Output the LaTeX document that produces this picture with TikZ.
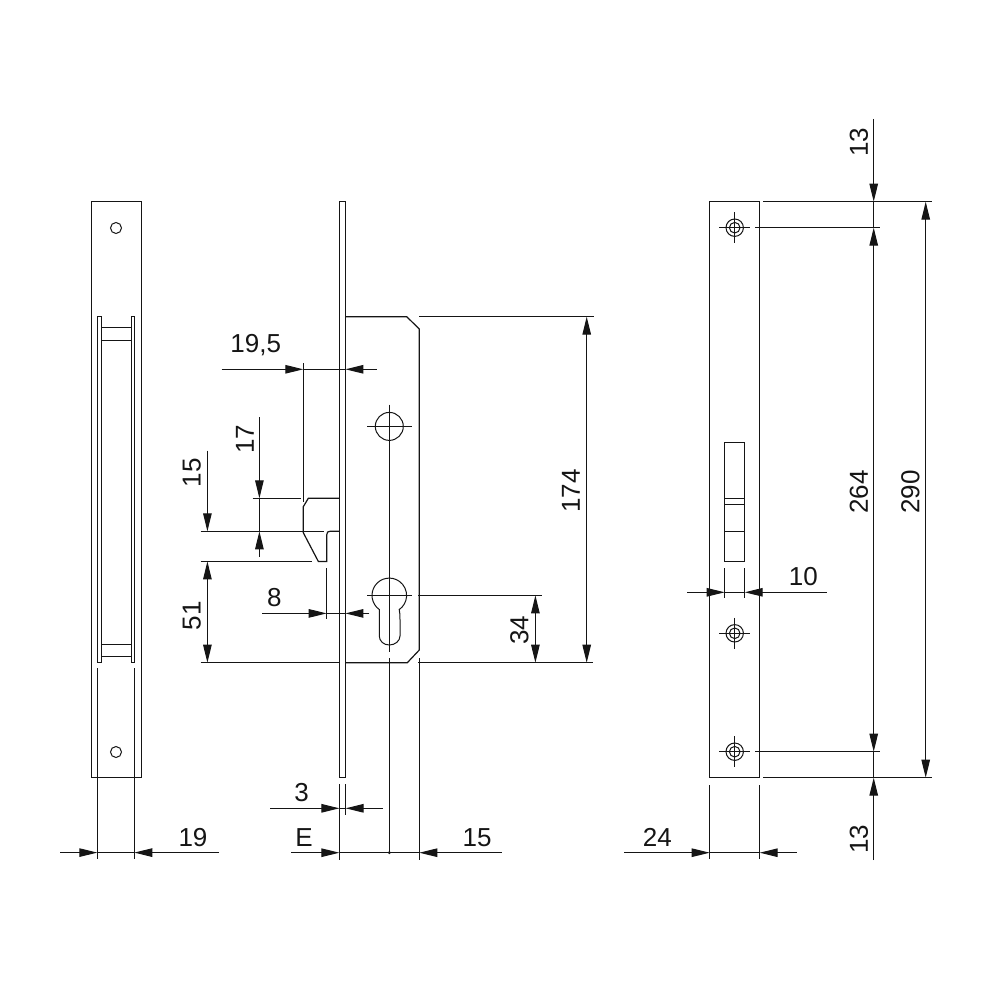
\documentclass[tikz,border=0pt]{standalone}
\usepackage{fontspec}
\setmainfont{Liberation Sans}
\usetikzlibrary{arrows.meta}
\definecolor{ink}{HTML}{151515}
\tikzset{
  part/.style={draw=ink,line width=1.2pt,line join=miter},
  thin line/.style={draw=ink,line width=1.05pt},
  tip/.style={draw=ink,line width=1.05pt,-{Triangle[length=18pt,width=8.5pt,fill=ink]}},
  lbl/.style={inner sep=0pt,text=ink,font=\fontsize{26}{26}\selectfont},
  vlbl/.style={lbl,rotate=90},
  hole/.style={part,line width=1pt}
}
\newcommand{\screwsym}[2]{%
  \draw[hole] (#1,#2) circle[radius=8.7];
  \draw[hole] (#1,#2) circle[radius=5.3];
  \draw[thin line] (#1-15.5,#2) -- (#1+15.5,#2);
  \draw[thin line] (#1,#2-15.5) -- (#1,#2+15.5);
}
\begin{document}
\begin{tikzpicture}[x=1pt,y=-1pt]
\useasboundingbox[fill=white] (0,0) rectangle (1000,1000);
% ---------- left view
\draw[part] (91.5,201.7) rectangle (141.5,777.7);
\draw[hole] (116,228) circle[radius=5.5];
\draw[hole] (116,752) circle[radius=5.5];
\draw[part] (97.3,316.7) rectangle (101.7,662.7);
\draw[part] (131.3,316.7) rectangle (134.7,662.7);
\foreach \yy in {327.7,340.5,644.3,656.7} \draw[thin line] (101.7,\yy) -- (131.3,\yy);
\draw[thin line] (97.3,668) -- (97.3,859);
\draw[thin line] (134.3,668) -- (134.3,859);
\draw[thin line] (97.3,852.6) -- (134.3,852.6);
\draw[tip] (60,852.6) -- (97.3,852.6);
\draw[tip] (219,852.6) -- (134.3,852.6);
\node[lbl] (t19) at (193,838) {19};
% ---------- middle view: plate and case
\draw[part] (339.4,201.7) rectangle (345.4,777.7);
\draw[part] (345.4,316.7) -- (406.7,316.7) -- (419.3,329) -- (419.3,650) -- (407.3,662.7) -- (345.4,662.7);
\draw[thin line] (419.3,316.7) -- (594,316.7);
\draw[thin line] (200.7,662.7) -- (339.4,662.7);
\draw[thin line] (418,662.7) -- (593,662.7);
% bolt
\draw[part] (339.4,498.3) -- (308.3,498.3) -- (303.3,506.7) -- (303.3,532.7) -- (318.3,561.4) -- (326.7,561.4) -- (326.7,535) .. controls (326.7,532) and (328,531.3) .. (330,531.3) -- (339.4,531.3);
\draw[thin line] (252.7,498.3) -- (301,498.3);
\draw[thin line] (200.7,531.3) -- (324,531.3);
\draw[thin line] (200.7,561.4) -- (311.7,561.4);
% holes
\draw[hole] (389.3,426.4) circle[radius=14];
\draw[thin line] (367.3,426.4) -- (412,426.4);
\draw[thin line] (389.3,404.7) -- (389.3,651.7);
\draw[hole] (389.3,595.4) ++(125:17.3) arc[start angle=125,end angle=415,radius=17.3]
  .. controls (399.8,612) and (400,615) .. (400,620) -- (400,636)
  .. controls (400,641) and (395,645) .. (389.3,645)
  .. controls (383.6,645) and (379.3,641) .. (379.3,636) -- (379.3,620)
  .. controls (379.3,615) and (379.4,612) .. cycle;
\draw[thin line] (367.3,595.4) -- (412,595.4);
\draw[thin line] (418,595.4) -- (541.7,595.4);
\draw[thin line] (389.3,658) -- (389.3,852.6);
\fill[ink] (389.3,852.6) circle[radius=1.6];
\draw[thin line] (419.3,658) -- (419.3,860);
% dimension 19,5
\draw[thin line] (303.3,363.3) -- (303.3,501.7);
\draw[thin line] (303.3,369.3) -- (345.4,369.3);
\draw[tip] (221.7,369.3) -- (303.3,369.3);
\draw[tip] (376.7,369.3) -- (345.4,369.3);
\node[lbl] (t195) at (255.7,345) {19,5};
% dimension 17
\draw[tip] (259.4,417.3) -- (259.4,498.3);
\draw[tip] (259.4,556.7) -- (259.4,531.3);
\draw[thin line] (259.4,498.3) -- (259.4,531.3);
\node[vlbl] (t17) at (245,439.3) {17};
% dimension 15
\draw[tip] (207.4,450.7) -- (207.4,531.3);
\node[vlbl] (t15a) at (191.7,472.7) {15};
% dimension 51
\draw[tip] (207.4,620) -- (207.4,561.4);
\draw[tip] (207.4,620) -- (207.4,662.7);
\node[vlbl] (t51) at (191.7,615.7) {51};
% dimension 8
\draw[thin line] (326.7,568.3) -- (326.7,619.3);
\draw[thin line] (326.7,613.4) -- (345.4,613.4);
\draw[tip] (262.3,613.4) -- (326.7,613.4);
\draw[tip] (369.3,613.4) -- (345.4,613.4);
\node[lbl] (t8) at (274.3,597.7) {8};
% dimension 34 and 174
\draw[tip] (535.4,630) -- (535.4,595.4);
\draw[tip] (535.4,630) -- (535.4,662.7);
\node[vlbl] (t34) at (519.3,630) {34};
\draw[tip] (586.7,490) -- (586.7,316.7);
\draw[tip] (586.7,490) -- (586.7,662.7);
\node[vlbl] (t174) at (571,491) {174};
% dimension 3, E, 15
\draw[thin line] (339.4,784) -- (339.4,860);
\draw[thin line] (345.6,784) -- (345.6,815);
\draw[thin line] (339.4,808.3) -- (345.6,808.3);
\draw[tip] (270,808.3) -- (339.4,808.3);
\draw[tip] (382.7,808.3) -- (345.6,808.3);
\node[lbl] (t3) at (301.7,793) {3};
\draw[tip] (291,852.7) -- (339.4,852.7);
\draw[thin line] (339.4,852.7) -- (419.3,852.7);
\draw[tip] (501.7,852.7) -- (419.3,852.7);
\node[lbl] (tE) at (304,838) {E};
\node[lbl] (t15b) at (477,838) {15};
% ---------- right view
\draw[part] (709.6,201.7) rectangle (759.7,777.7);
\screwsym{734.7}{227.7}
\screwsym{734.7}{633.3}
\screwsym{734.7}{751.7}
\draw[part] (724.7,442.4) rectangle (744.7,561.7);
\foreach \yy in {498.7,504.7,531.4} \draw[thin line] (724.7,\yy) -- (744.7,\yy);
\draw[thin line] (763.3,201.7) -- (931.7,201.7);
\draw[thin line] (755,227.7) -- (880,227.7);
\draw[thin line] (755,751.7) -- (880,751.7);
\draw[thin line] (763.3,777.7) -- (932,777.7);
% dimension 10
\draw[thin line] (724.7,568.3) -- (724.7,598.3);
\draw[thin line] (744.7,568.3) -- (744.7,598.3);
\draw[thin line] (724.7,592.3) -- (744.7,592.3);
\draw[tip] (687.3,592.3) -- (724.7,592.3);
\draw[tip] (826.7,592.3) -- (744.7,592.3);
\node[lbl] (t10) at (803.3,576.7) {10};
% dimension 24
\draw[thin line] (709.7,785) -- (709.7,859.3);
\draw[thin line] (759.7,785) -- (759.7,859.3);
\draw[thin line] (709.7,852.7) -- (759.7,852.7);
\draw[tip] (624.3,852.7) -- (709.7,852.7);
\draw[tip] (796.7,852.7) -- (759.7,852.7);
\node[lbl] (t24) at (657.3,837.3) {24};
% dimensions 13, 264, 13, 290
\draw[tip] (873.7,119) -- (873.7,201.7);
\draw[thin line] (873.7,201.7) -- (873.7,227.7);
\draw[tip] (873.7,490) -- (873.7,227.7);
\draw[tip] (873.7,490) -- (873.7,751.7);
\draw[thin line] (873.7,751.7) -- (873.7,777.7);
\draw[tip] (873.7,860) -- (873.7,777.7);
\draw[tip] (925.7,490) -- (925.7,201.7);
\draw[tip] (925.7,490) -- (925.7,777.7);
\node[vlbl] (t13a) at (859,142.5) {13};
\node[vlbl] (t264) at (859,492) {264};
\node[vlbl] (t290) at (910.5,492) {290};
\node[vlbl] (t13b) at (859,839.3) {13};
\end{tikzpicture}
\end{document}
